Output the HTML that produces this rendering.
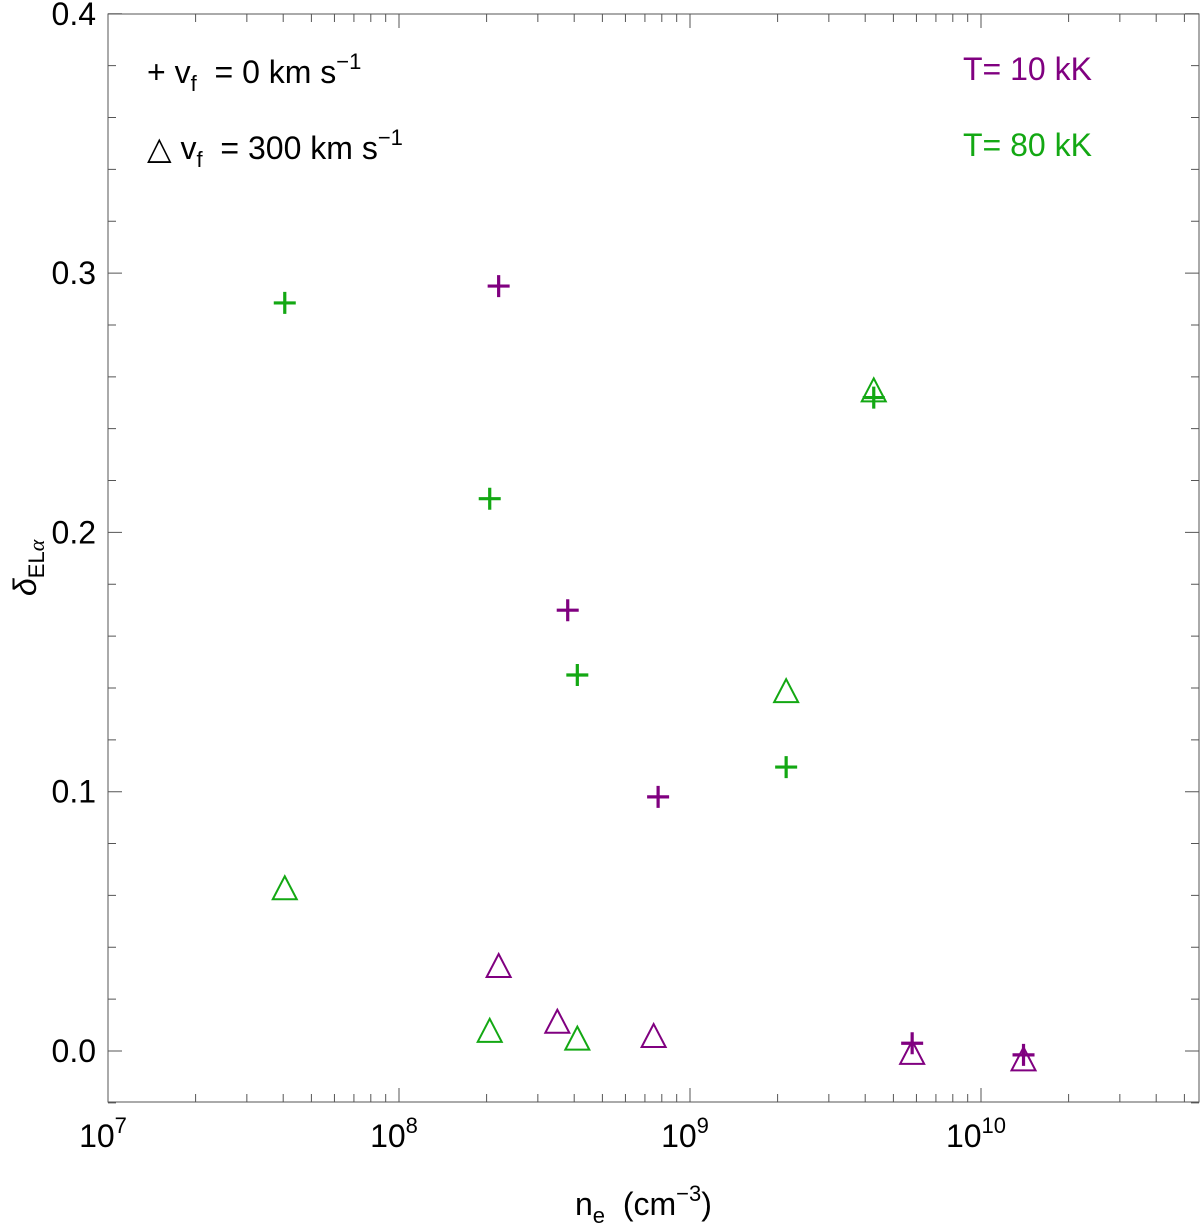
<!DOCTYPE html>
<html><head><meta charset="utf-8"><style>
body{margin:0;background:#fff}
svg text{font-family:"Liberation Sans",sans-serif}
</style></head><body>
<svg id="c" width="1200" height="1223" viewBox="0 0 1200 1223">
<rect x="108" y="14" width="1091" height="1088" fill="none" stroke="#555" stroke-width="1"/>
<g id="ticks"></g><g id="marks"></g>
<g font-size="32">
<text x="147" y="83" xml:space="preserve">+ v<tspan font-size="22" dy="8">f</tspan><tspan dy="-8">  = 0 km s</tspan><tspan font-size="22" dy="-14">−1</tspan></text>
<text x="147" y="159" xml:space="preserve">△ v<tspan font-size="22" dy="8">f</tspan><tspan dy="-8">  = 300 km s</tspan><tspan font-size="22" dy="-14">−1</tspan></text>
<text x="963" y="80" fill="#800080">T= 10 kK</text>
<text x="963" y="156" fill="#13a813">T= 80 kK</text>
</g>
<text x="575" y="1215" font-size="32" xml:space="preserve">n<tspan font-size="22" dy="8">e</tspan><tspan dy="-8">  (cm</tspan><tspan font-size="22" dy="-14">−3</tspan><tspan dy="14">)</tspan></text>
<text transform="translate(36,596) rotate(-90)" font-size="32"><tspan font-style="italic">δ</tspan><tspan font-size="22" dy="8">EL</tspan><tspan font-size="22" font-style="italic" font-family="Liberation Serif, serif">α</tspan></text>
</svg>
<script>
const greenPlusX=[4.05e7,2.05e8,4.1e8,2.14e9,4.28e9];
const greenPlusY=[0.2885,0.213,0.145,0.1095,0.252];
const purplePlusX=[2.2e8,3.8e8,7.77e8,5.8e9,1.4e10];
const purplePlusY=[0.295,0.170,0.098,0.003,-0.0015];
const greenTriX=[4.05e7,2.05e8,4.1e8,2.14e9,4.28e9];
const greenTriY=[0.062,0.007,0.004,0.138,0.254];
const purpleTriX=[2.2e8,3.5e8,7.5e8,5.8e9,1.4e10];
const purpleTriY=[0.032,0.0105,0.005,-0.0015,-0.004];
const yTicks=[0,0.1,0.2,0.3,0.4];
const yTickLabels=["0.0","0.1","0.2","0.3","0.4"];
const xDecades=[7,8,9,10];
const NS="http://www.w3.org/2000/svg";
const X0=108,X1=1199,Y0=14,Y1=1102;
const xs=v=>108+(Math.log10(v)-7)*291;
const ys=v=>1051-v*2593;
function mk(t,a,p){const e=document.createElementNS(NS,t);for(const k in a)e.setAttribute(k,a[k]);p.appendChild(e);return e;}
const tg=document.getElementById('ticks');
for(let v=-0.02;v<=0.4001;v+=0.02){const y=ys(v);const major=Math.abs(v*10-Math.round(v*10))<1e-6;const L=major?14:8;
mk('path',{d:`M${X0} ${y}h${L}M${X1} ${y}h${-L}`,stroke:'#555','stroke-width':1},tg);}
yTicks.forEach((v,i)=>{const t=mk('text',{x:96,y:ys(v)+11,'text-anchor':'end','font-size':32},tg);t.textContent=yTickLabels[i];

});
for(let d=7;d<=10;d++)for(let m=1;m<=9;m++){const x=xs(m*Math.pow(10,d));if(x>X1)continue;const L=m==1?14:8;
mk('path',{d:`M${x} ${Y1}v${-L}M${x} ${Y0}v${L}`,stroke:'#555','stroke-width':1},tg);}
xDecades.forEach(d=>{const t=mk('text',{x:xs(Math.pow(10,d))-5,y:1147,'text-anchor':'middle','font-size':32},tg);
t.innerHTML=`10<tspan font-size="22" dy="-14">${d}</tspan>`;

});
const mg=document.getElementById('marks');
function plus(X,Y,c,n){X.forEach((v,i)=>{const x=xs(v),y=ys(Y[i]);const e=mk('path',{d:`M${x-11} ${y}h22M${x} ${y-11}v22`,stroke:c,'stroke-width':3.2},mg);

});}
function tri(X,Y,c,n){X.forEach((v,i)=>{const x=xs(v),y=ys(Y[i]);const e=mk('path',{d:`M${x} ${y-14}L${x+12} ${y+9}L${x-12} ${y+9}Z`,stroke:c,'stroke-width':2,fill:'none'},mg);

});}
tri(greenTriX,greenTriY,'#13a813','green-triangle');
tri(purpleTriX,purpleTriY,'#800080','purple-triangle');
plus(greenPlusX,greenPlusY,'#13a813','green-plus');
plus(purplePlusX,purplePlusY,'#800080','purple-plus');
</script>
</body></html>
